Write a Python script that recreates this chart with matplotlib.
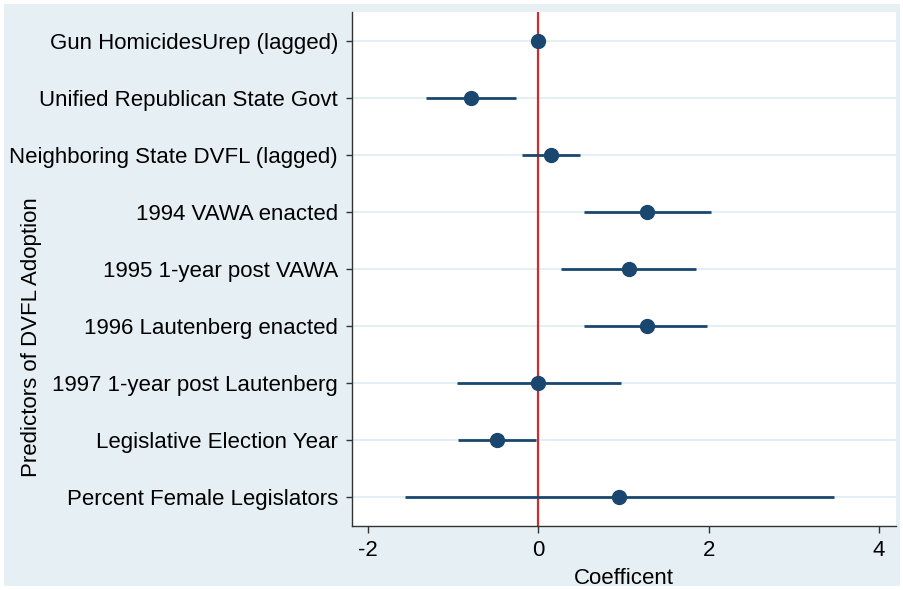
import numpy as np
import matplotlib
matplotlib.use('Agg')
import matplotlib.pyplot as plt
from matplotlib.patches import Rectangle

# данные: коэффициенты и доверительные интервалы
labels = ['Gun HomicidesUrep (lagged)',
          'Unified Republican State Govt',
          'Neighboring State DVFL (lagged)',
          '1994 VAWA enacted',
          '1995 1-year post VAWA',
          '1996 Lautenberg enacted',
          '1997 1-year post Lautenberg',
          'Legislative Election Year',
          'Percent Female Legislators']
coef = [0.00, -0.79, 0.15, 1.28, 1.06, 1.27, 0.00, -0.49, 0.95]
ci_low = [-0.01, -1.325, -0.19, 0.54, 0.27, 0.54, -0.96, -0.94, -1.57]
ci_high = [0.01, -0.26, 0.49, 2.03, 1.85, 1.98, 0.975, -0.03, 3.475]
xticks = [-2, 0, 2, 4]

plt.rcParams['font.family'] = ['Liberation Sans', 'DejaVu Sans']

navy = '#1a476f'
bg = '#e6f0f4'

fig = plt.figure(figsize=(9.04, 5.90), dpi=100, facecolor='white')
fig.patches.append(Rectangle((4/904, 4/590), 896/904, 582/590,
                             transform=fig.transFigure, facecolor=bg,
                             edgecolor='none', zorder=-10))
ax = fig.add_axes([352/904, 1-526/590, (896-352)/904, (526-12)/590])
ax.set_facecolor('white')

y = np.arange(1, len(labels)+1)
for yi in y:
    ax.axhline(yi, color='#e4eff3', lw=1.4, zorder=0)

ax.axvline(0, color='#d32a2a', lw=1.6, zorder=1)
ax.hlines(y, ci_low, ci_high, color=navy, lw=2.0, zorder=2)
ax.plot(coef, y, 'o', color=navy, markersize=10, zorder=3)

ax.set_xlim(-2.19, 4.2)
ax.set_ylim(9.5, 0.5)
ax.set_yticks(y)
ax.set_yticklabels(labels, fontsize=16)
ax.set_xticks(xticks)
ax.set_xticklabels([str(t) for t in xticks], fontsize=16)
ax.tick_params(axis='y', length=4, width=1, color='#333333', pad=6)
ax.tick_params(axis='x', length=5, width=1, color='#333333', pad=5)

for s in ['top', 'right']:
    ax.spines[s].set_visible(False)
for s in ['left', 'bottom']:
    ax.spines[s].set_color('#333333')
    ax.spines[s].set_linewidth(1)

ax.set_xlabel('Coefficent', fontsize=16, labelpad=5)
# подпись оси Y смещена вниз, как в оригинале
fig.text(32/904, 1-337/590, 'Predictors of DVFL Adoption', fontsize=16,
         rotation=90, ha='center', va='center')

fig.savefig('out.png', dpi=100, facecolor=fig.get_facecolor())
